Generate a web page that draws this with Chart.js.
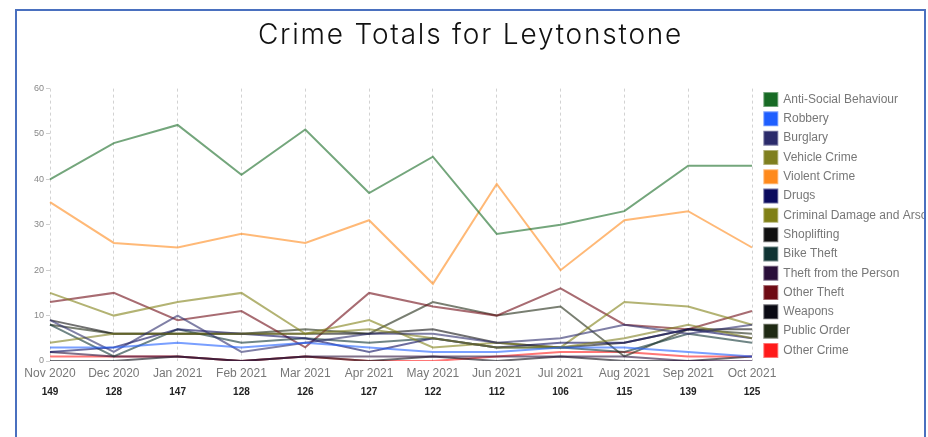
<!DOCTYPE html>
<html>
<head>
<meta charset="utf-8">
<script src="https://cdn.jsdelivr.net/npm/chart.js@4/dist/chart.umd.min.js"></script>
<style>
  html, body { margin: 0; padding: 0; background: #fff; overflow: hidden; }
  #frame { position: absolute; left: 15px; top: 9px; width: 907px; height: 470px; border: 2px solid #4a70bf; }
  #crime-chart { display: block; }
</style>
</head>
<body>
<div id="frame"><canvas id="crime-chart" width="907" height="428"></canvas></div>
<script>
const months = ["Nov 2020", "Dec 2020", "Jan 2021", "Feb 2021", "Mar 2021", "Apr 2021", "May 2021", "Jun 2021", "Jul 2021", "Aug 2021", "Sep 2021", "Oct 2021"];
const totals = ["149", "128", "147", "128", "126", "127", "122", "112", "106", "115", "139", "125"];

const antiSocial    = [40, 48, 52, 41, 51, 37, 45, 28, 30, 33, 43, 43];
const robbery       = [3, 3, 4, 3, 4, 3, 2, 2, 3, 3, 2, 1];
const burglary      = [9, 2, 10, 2, 4, 6, 6, 4, 5, 8, 6, 8];
const vehicleCrime  = [4, 6, 6, 6, 6, 7, 5, 3, 3, 5, 8, 5];
const violentCrime  = [35, 26, 25, 28, 26, 31, 17, 39, 20, 31, 33, 25];
const drugs         = [2, 3, 7, 6, 5, 2, 5, 3, 4, 4, 7, 5];
const criminalDmg   = [15, 10, 13, 15, 6, 9, 3, 4, 3, 13, 12, 8];
const shoplifting   = [9, 6, 6, 6, 6, 6, 7, 4, 3, 4, 7, 7];
const bikeTheft     = [8, 1, 7, 4, 5, 4, 5, 3, 3, 2, 6, 4];
const theftPerson   = [2, 1, 1, 0, 1, 1, 1, 1, 1, 1, 0, 0];
const otherTheft    = [13, 15, 9, 11, 3, 15, 12, 10, 16, 8, 7, 11];
const weapons       = [0, 0, 1, 0, 1, 0, 1, 0, 1, 0, 0, 1];
const publicOrder   = [8, 6, 6, 6, 7, 6, 13, 10, 12, 1, 7, 6];
const otherCrime    = [1, 1, 1, 0, 1, 0, 0, 1, 2, 2, 1, 1];

const seriesNames = ["Anti-Social Behaviour", "Robbery", "Burglary", "Vehicle Crime", "Violent Crime", "Drugs",
  "Criminal Damage and Arson", "Shoplifting", "Bike Theft", "Theft from the Person", "Other Theft", "Weapons",
  "Public Order", "Other Crime"];
const seriesValues = [antiSocial, robbery, burglary, vehicleCrime, violentCrime, drugs, criminalDmg,
  shoplifting, bikeTheft, theftPerson, otherTheft, weapons, publicOrder, otherCrime];
const seriesColors = ["24,107,37", "31,95,255", "43,43,107", "127,127,31", "255,138,28", "11,11,94",
  "128,128,22", "17,17,17", "15,51,51", "42,15,58", "110,10,20", "10,10,20", "31,42,20", "255,26,26"];

Chart.defaults.font.family = "'Liberation Sans', Arial, sans-serif";

const datasets = seriesNames.map((name, i) => ({
  label: name,
  data: seriesValues[i],
  backgroundColor: `rgb(${seriesColors[i]})`,
  borderColor: `rgba(${seriesColors[i]},0.6)`,
  borderWidth: 2,
  pointRadius: 0,
  tension: 0
}));

// the heading in the original is tracked out a little
const titleSpacing = {
  id: "titleSpacing",
  afterLayout(chart) {
    const box = chart.titleBlock;
    if (!box || box._spaced) return;
    const draw = box.draw.bind(box);
    box.draw = (area) => {
      chart.ctx.save();
      chart.ctx.letterSpacing = "1.8px";
      draw(area);
      chart.ctx.restore();
    };
    box._spaced = true;
  }
};

new Chart(document.getElementById("crime-chart"), {
  type: "line",
  data: { labels: months, datasets },
  plugins: [titleSpacing],
  options: {
    responsive: false,
    animation: false,
    scales: {
      x: {
        offset: false,
        grid: { color: "#d2d2d2", drawTicks: false, tickLength: 0 },
        border: { display: false, dash: [3, 3] },
        ticks: { color: "#777", font: { size: 12 }, padding: 5, maxRotation: 0, autoSkip: false },
        afterFit(scale) { scale.height = 20; }
      },
      x2: {
        type: "category",
        position: "bottom",
        labels: totals,
        offset: false,
        grid: { display: false, drawTicks: false },
        border: { display: false },
        ticks: { color: "#222", font: { size: 10, weight: "bold" }, padding: 5, maxRotation: 0, autoSkip: false },
        afterFit(scale) { scale.height = 58; }
      },
      y: {
        min: 0,
        max: 60,
        grid: { drawOnChartArea: false, color: "#cfcfcf", tickLength: 4 },
        border: { display: false },
        ticks: { stepSize: 10, color: "#888", font: { size: 9 }, padding: 2 },
        afterFit(scale) { scale.width = 33; }
      },
      pad: {
        type: "linear",
        position: "right",
        grid: { display: false },
        border: { display: false },
        ticks: { display: false },
        afterFit(scale) { scale.width = 6; }
      }
    },
    plugins: {
      title: {
        display: true,
        text: "Crime Totals for Leytonstone",
        color: "#111",
        font: { family: "Inter", size: 28, weight: "300" },
        padding: { top: 8, bottom: 36 }
      },
      legend: {
        position: "right",
        maxWidth: 166,
        labels: { color: "#777", boxWidth: 13, boxHeight: 13, padding: 6.3, font: { size: 12 } }
      },
      tooltip: { enabled: false }
    }
  }
});
</script>
</body>
</html>
